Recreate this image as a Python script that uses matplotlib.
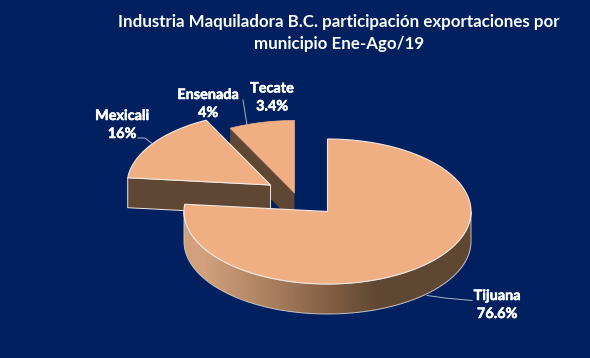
import numpy as np
import matplotlib
matplotlib.use('Agg')
import matplotlib.pyplot as plt
from matplotlib.patches import Polygon
from matplotlib.colors import LinearSegmentedColormap
import matplotlib.patheffects as pe

# Datos
municipios = ['Tijuana', 'Mexicali', 'Ensenada', 'Tecate']
valores = [76.6, 16, 4, 3.4]
etiquetas = ['76.6%', '16%', '4%', '3.4%']
titulo = 'Industria Maquiladora B.C. participación exportaciones por\nmunicipio Ene-Ago/19'

# Colores
fondo = '#002060'
cara = '#F0AF83'
pared = '#5F4733'
borde = '#F4E8DF'

# Geometria del pie en pixeles
rx, ry, prof = 143.5, 72.5, 30
centros = {'Tijuana': (327.5, 211.5), 'Mexicali': (270.5, 185), 'Ensenada': (294.5, 193), 'Tecate': (294.5, 193)}

plt.rcParams['font.family'] = ['Lato', 'DejaVu Sans']

fig = plt.figure(figsize=(5.9, 3.58), dpi=100, facecolor=fondo)
ax = fig.add_axes([0, 0, 1, 1])
ax.set_facecolor(fondo)


def punto(c, ang):
    return c[0] + rx * np.sin(ang), c[1] - ry * np.cos(ang)


def arco(c, a0, a1, n=80):
    t = np.linspace(a0, a1, n)
    x, y = punto(c, t)
    return np.column_stack([x, y])


# Angulos de cada rebanada (sentido horario desde arriba)
cortes = np.radians(np.concatenate([[0], np.cumsum(valores)]) / sum(valores) * 360)
ang = {m: (cortes[i], cortes[i + 1]) for i, m in enumerate(municipios)}

# Tecate y Ensenada (quedan juntas, al fondo)
c = centros['Tecate']
a0 = ang['Ensenada'][0]
p0 = np.array(punto(c, a0))
ax.add_patch(Polygon([c, p0, p0 + [0, prof], (c[0], c[1] + prof)], fc=pared, ec='none', zorder=2))
ar = np.vstack([arco(c, *ang['Ensenada']), arco(c, *ang['Tecate'])])
ax.add_patch(Polygon(np.vstack([[c], ar]), fc=cara, ec=cara, lw=0.5, zorder=3))

# Mexicali
c = centros['Mexicali']
a0, a1 = ang['Mexicali']
p0 = np.array(punto(c, a0))
ax.add_patch(Polygon([c, p0, p0 + [0, prof], (c[0], c[1] + prof)], fc=pared, ec=borde, lw=0.7, zorder=4))
ar = arco(c, a0, a1)
ax.add_patch(Polygon(np.vstack([[c], ar]), fc=cara, ec=borde, lw=0.8, zorder=5))

# Tijuana: pared frontal con degradado
c = centros['Tijuana']
a0, a1 = ang['Tijuana']
frente = arco(c, np.pi / 2, 3 * np.pi / 2)
muro = np.vstack([frente, frente[::-1] + [0, prof]])
poly_muro = Polygon(muro, fc='none', ec='#C9C4C0', lw=0.7, zorder=7)
ax.add_patch(poly_muro)
cmap = LinearSegmentedColormap.from_list('muro', [(0, '#D2A07C'), (0.07, '#D2A07C'), (0.30, '#AA7F5F'),
                                                  (0.53, '#7D5B41'), (0.68, pared), (1, pared)])
img = ax.imshow(np.linspace(0, 1, 300).reshape(1, -1), cmap=cmap, extent=[c[0] - rx, c[0] + rx, 325, 200],
                aspect='auto', zorder=6, vmin=0, vmax=1)
img.set_clip_path(poly_muro)
ar = arco(c, a0, a1, 200)
ax.add_patch(Polygon(np.vstack([[c], ar]), fc=cara, ec=borde, lw=0.8, zorder=8))

# Lineas guia
guia = '#A9B4C8'
ax.plot([138, 145, 152], [138, 138, 143.5], color=guia, lw=0.7, zorder=9)
ax.plot([243, 247], [100, 125], color=guia, lw=0.7, zorder=9)
ax.plot([427, 445, 472], [295.5, 298, 300.5], color=guia, lw=0.7, zorder=9)

# Etiquetas
pos_etq = {'Tijuana': (497, 305), 'Mexicali': (122, 125), 'Ensenada': (208, 104), 'Tecate': (272, 97.5)}
for m, e in zip(municipios, etiquetas):
    ax.text(pos_etq[m][0], pos_etq[m][1], m + '\n' + e, color='white', fontsize=10.4, fontweight='bold',
            ha='center', va='center', linespacing=1.6, zorder=10,
            path_effects=[pe.withStroke(linewidth=0.4, foreground='white')])

ax.text(339, 33, titulo, color='white', fontsize=12.2, fontweight='bold', ha='center', va='center', linespacing=1.45)

ax.set_xlim(0, 590)
ax.set_ylim(358, 0)
ax.axis('off')

fig.savefig('out.png', dpi=100, facecolor=fondo)
